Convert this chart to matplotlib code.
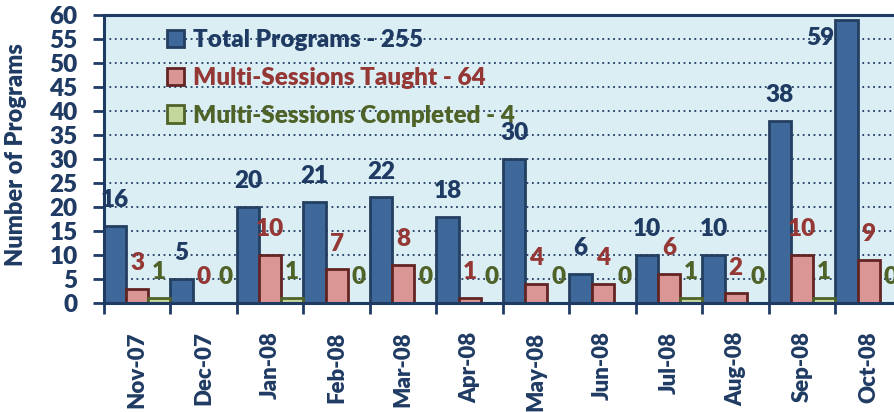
import numpy as np
import matplotlib
matplotlib.use("Agg")
import matplotlib.pyplot as plt
from matplotlib.patches import Patch
from matplotlib.ticker import FixedLocator, MultipleLocator


MONTHS = ["Nov-07", "Dec-07", "Jan-08", "Feb-08", "Mar-08", "Apr-08",
          "May-08", "Jun-08", "Jul-08", "Aug-08", "Sep-08", "Oct-08"]
TOTAL = [16, 5, 20, 21, 22, 18, 30, 6, 10, 10, 38, 59]
TAUGHT = [3, 0, 10, 7, 8, 1, 4, 4, 6, 2, 10, 9]
COMPLETED = [1, 0, 1, 0, 0, 0, 0, 0, 1, 0, 1, 0]
SERIES_NAMES = ["Total Programs", "Multi-Sessions Taught", "Multi-Sessions Completed"]

NAVY = "#1F3B63"
FILLS = ["#3E679A", "#D99694", "#C3D69B"]
EDGES = ["#243F60", "#632523", "#4F6228"]
TEXT_COLORS = [NAVY, "#953735", "#4F6228"]
WEIGHT = "heavy"

plt.rcParams["font.family"] = ["Lato", "DejaVu Sans"]
plt.rcParams["font.weight"] = WEIGHT
plt.rcParams["axes.labelweight"] = WEIGHT


def main() -> None:
    fig = plt.figure(figsize=(8.94, 4.12), dpi=100)
    ax = fig.add_axes([0.1163, 0.2646, 0.8926, 0.699])
    ax.set_facecolor("#DAEEF3")

    x = np.arange(len(MONTHS))
    width = 1 / 3
    series = [TOTAL, TAUGHT, COMPLETED]
    handles = []
    for k, values in enumerate(series):
        pos = x + (k - 1) * width
        ax.bar(pos, values, width=width, color=FILLS[k], edgecolor=EDGES[k],
               linewidth=2.0, zorder=2)
        for px, v in zip(pos, values):
            if v > 55:
                # no room above the tallest bar: put the label beside it
                ax.annotate(str(v), (px - width / 2, v), xytext=(-1, -13),
                            textcoords="offset points", ha="right", va="center",
                            fontsize=17.5, color=TEXT_COLORS[k], zorder=4)
            else:
                ax.annotate(str(v), (px, v), xytext=(0, 18.5),
                            textcoords="offset points", ha="center", va="center",
                            fontsize=17.5, color=TEXT_COLORS[k], zorder=4)
        handles.append(Patch(facecolor=FILLS[k], edgecolor=EDGES[k], linewidth=2.0,
                             label=f"{SERIES_NAMES[k]} - {sum(values)}"))

    ax.set_xlim(-0.5, len(MONTHS) - 0.5)
    ax.set_ylim(0, 60)
    ax.yaxis.set_major_locator(MultipleLocator(5))
    ax.set_axisbelow(True)
    ax.grid(axis="y", linestyle=(0, (1, 2)), color=NAVY, linewidth=1.3, zorder=1)

    ax.set_xticks(x)
    ax.set_xticklabels(MONTHS, rotation=90, va="top", ha="center",
                       fontsize=16, color=NAVY)
    ax.xaxis.set_minor_locator(FixedLocator(np.arange(-0.5, len(MONTHS), 1)))
    ax.tick_params(axis="x", which="major", length=0, pad=20.5)
    ax.tick_params(axis="x", which="minor", length=8, width=2, color=NAVY,
                   direction="out")
    ax.tick_params(axis="y", length=8, width=2, color=NAVY, labelsize=17.5,
                   labelcolor=NAVY, pad=11)

    for side in ["left", "bottom", "top", "right"]:
        ax.spines[side].set_color(NAVY)
        ax.spines[side].set_linewidth(2.2)

    ax.set_ylabel("Number of Programs", fontsize=17, color=NAVY)
    ax.yaxis.set_label_coords(-0.0965, 0.514)

    leg = ax.legend(handles=handles, loc="upper left",
                    bbox_to_anchor=(0.079, 0.95), frameon=False, fontsize=17.5,
                    handlelength=0.7, handleheight=0.7, handletextpad=0.35,
                    labelspacing=0.64, borderpad=0, borderaxespad=0)
    leg.set_zorder(0.8)
    for text, color in zip(leg.get_texts(), TEXT_COLORS):
        text.set_color(color)

    fig.savefig("out.png", dpi=100)


if __name__ == "__main__":
    main()
